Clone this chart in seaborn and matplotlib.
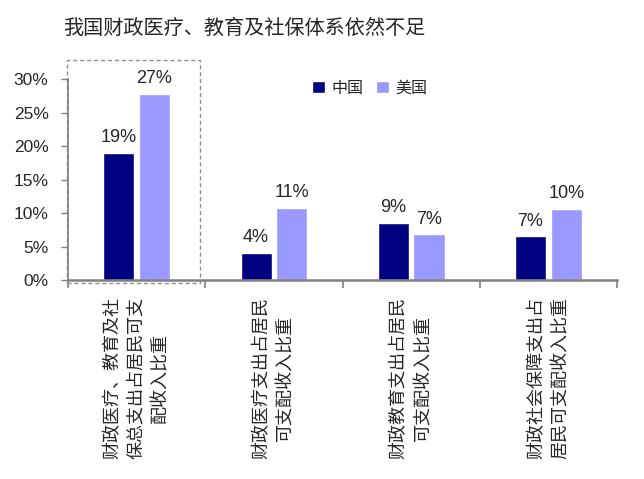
import numpy as np
import pandas as pd
import matplotlib
matplotlib.use("Agg")
import matplotlib.pyplot as plt
from matplotlib.ticker import PercentFormatter, FixedLocator
from matplotlib.patches import Rectangle
import seaborn as sns

# chart data
categories = ["财政医疗、教育及社\n保总支出占居民可支\n配收入比重",
              "财政医疗支出占居民\n可支配收入比重",
              "财政教育支出占居民\n可支配收入比重",
              "财政社会保障支出占\n居民可支配收入比重"]
series = ["中国", "美国"]
china = [0.190, 0.040, 0.085, 0.065]
usa = [0.277, 0.107, 0.068, 0.106]
china_labels = ["19%", "4%", "9%", "7%"]
usa_labels = ["27%", "11%", "7%", "10%"]
title = "我国财政医疗、教育及社保体系依然不足"

df = pd.DataFrame({
    "cat": categories * 2,
    "country": [series[0]] * 4 + [series[1]] * 4,
    "value": china + usa,
})

sns.set_style("white")
plt.rcParams["font.family"] = ["Liberation Sans", "Noto Sans CJK SC", "DejaVu Sans"]
cjk = ["Noto Sans CJK SC", "DejaVu Sans"]

fig = plt.figure(figsize=(6.44, 4.79), dpi=100)
ax = fig.add_axes([0.1056, 0.4154, 0.8525, 0.4196])

sns.barplot(data=df, x="cat", y="value", hue="country", hue_order=series,
            palette=["#000080", "#9999FF"], width=0.52, gap=0.13,
            saturation=1, ax=ax, legend=True)

ax.bar_label(ax.containers[0], labels=china_labels, padding=5, fontsize=13)
ax.bar_label(ax.containers[1], labels=usa_labels, padding=5, fontsize=13)

ax.set_ylim(0, 0.30)
ax.set_xlim(-0.5, 3.5)
ax.set_yticks(np.arange(0, 0.31, 0.05))
ax.yaxis.set_major_formatter(PercentFormatter(1.0, decimals=0))
ax.tick_params(axis="y", labelsize=12.5, length=5, width=1, color="#808080",
               left=True, pad=9)
ax.set_xticks(range(len(categories)))
ax.set_xticklabels(categories, rotation=90, va="top", ha="center",
                   multialignment="center", linespacing=1.45,
                   fontsize=13, family=cjk)
ax.tick_params(axis="x", which="major", length=0, pad=12)
ax.xaxis.set_minor_locator(FixedLocator([-0.5, 0.5, 1.5, 2.5, 3.5]))
ax.tick_params(axis="x", which="minor", length=6, width=1.2, color="#808080",
               bottom=True)
ax.set_xlabel("")
ax.set_ylabel("")

sns.despine(ax=ax)
for s in ["left", "bottom"]:
    ax.spines[s].set_color("#808080")
ax.spines["left"].set_linewidth(1.2)
ax.spines["bottom"].set_linewidth(1.8)

# dashed highlight box around the first group
ax.add_patch(Rectangle((-0.002, -0.015), 0.242, 1.11, transform=ax.transAxes,
                       fill=False, ls=(0, (3, 2)), lw=1, ec="#909090",
                       clip_on=False))

handles, labels = ax.get_legend_handles_labels()
ax.legend(handles, labels, loc="center left", bbox_to_anchor=(0.472, 0.816),
          bbox_transform=fig.transFigure, ncol=2, frameon=False,
          prop={"family": cjk, "size": 11.5}, handlelength=0.8,
          handleheight=0.8, handletextpad=0.4, columnspacing=0.8,
          borderpad=0)

fig.text(0.379, 0.94, title, ha="center", va="center", fontsize=14.5,
         family=cjk)

fig.savefig("out.png", dpi=100)
